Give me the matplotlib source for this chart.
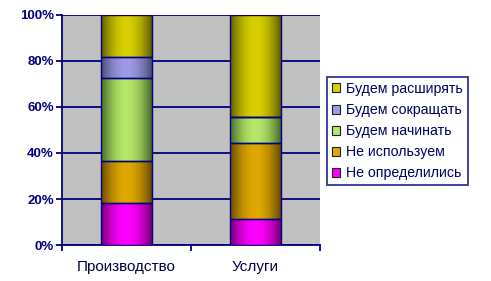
import numpy as np
import matplotlib.pyplot as plt
from matplotlib.colors import to_rgb
from matplotlib.patches import Patch
from matplotlib.ticker import FuncFormatter

plt.rcParams['font.family'] = ['Liberation Sans', 'DejaVu Sans']

categories = ["Производство", "Услуги"]
series = ["Не определились", "Не используем", "Будем начинать", "Будем сокращать", "Будем расширять"]
# shares in percent, bottom to top
undecided = [18.2, 11.1]
not_using = [18.2, 33.3]
will_start = [36.4, 11.1]
will_reduce = [9.1, 0.0]
will_expand = [18.1, 44.5]
values = [undecided, not_using, will_start, will_reduce, will_expand]

light = ["#FF00FF", "#E0A800", "#B4E86A", "#9C9CE8", "#D8D000"]
dark = ["#700070", "#664800", "#466828", "#4A4A72", "#605A00"]

navy = "#000080"

fig = plt.figure(figsize=(4.91, 2.81), dpi=100)
ax = fig.add_axes([62 / 491, 1 - 245 / 281, 258 / 491, 230 / 281])
ax.set_facecolor("#C0C0C0")

x = np.arange(len(categories))
width = 0.39
bottom = np.zeros(len(categories))

t = np.linspace(0, 1, 64)
shade = np.sin(np.pi * t) ** 0.9

for vals, lc, dc in zip(values, light, dark):
    bars = ax.bar(x, vals, width, bottom=bottom, facecolor="none",
                  edgecolor=navy, linewidth=1.0, zorder=4)
    lc_rgb = np.array(to_rgb(lc))
    dc_rgb = np.array(to_rgb(dc))
    grad = dc_rgb[None, :] + (lc_rgb - dc_rgb)[None, :] * shade[:, None]
    img = grad[None, :, :]
    for b in bars:
        if b.get_height() <= 0:
            continue
        bx, by = b.get_x(), b.get_y()
        im = ax.imshow(img, extent=(bx, bx + b.get_width(), by, by + b.get_height()),
                       aspect="auto", zorder=3, interpolation="bilinear")
        im.set_clip_path(b)
    bottom += np.array(vals)

ax.set_xlim(-0.5, 1.5)
ax.set_ylim(0, 100)

ax.set_yticks([0, 20, 40, 60, 80, 100])
ax.yaxis.set_major_formatter(FuncFormatter(lambda v, p: f"{v:.0f}%"))
ax.grid(axis="y", color=navy, linewidth=1.3, zorder=1)
ax.set_axisbelow(True)

ax.set_xticks([-0.5, 0.5, 1.5])
ax.set_xticklabels([])
ax.set_xticks(x, minor=True)
ax.set_xticklabels(categories, minor=True)
ax.tick_params(axis="x", which="major", length=4, width=1.3, color=navy, direction="out")
ax.tick_params(axis="x", which="minor", length=0, pad=11, labelsize=11, labelcolor="#000040")
ax.tick_params(axis="y", length=4, width=1.3, color=navy, direction="out",
               labelsize=9.5, labelcolor=navy, pad=2)
for lbl in ax.get_yticklabels():
    lbl.set_fontweight("bold")

for s in ["top", "right"]:
    ax.spines[s].set_visible(False)
for s in ["left", "bottom"]:
    ax.spines[s].set_color(navy)
    ax.spines[s].set_linewidth(1.3)

handles = [Patch(facecolor=lc, edgecolor="#202020", linewidth=0.8) for lc in light]
leg = fig.legend(handles[::-1], series[::-1], loc="upper left",
                 bbox_to_anchor=(327 / 491, 1 - 77 / 281), frameon=True, fancybox=False,
                 edgecolor=navy, handlelength=0.55, handleheight=0.6, handletextpad=0.45,
                 labelspacing=0.5, borderpad=0.35, prop={"size": 10.2},
                 labelcolor="#000060", borderaxespad=0)
leg.get_frame().set_linewidth(1.3)

fig.savefig("out.png", dpi=100)
